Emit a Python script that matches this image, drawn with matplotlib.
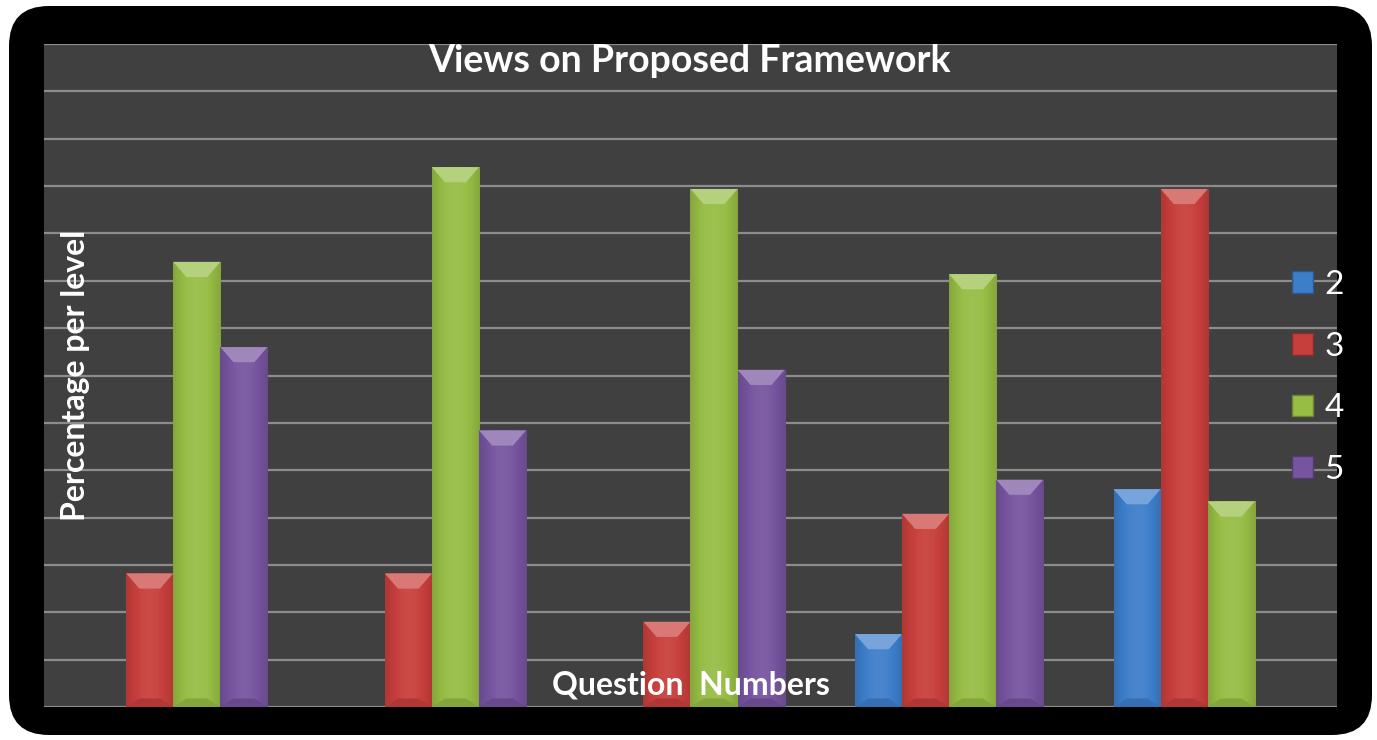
import numpy as np
import matplotlib.pyplot as plt
from matplotlib.patches import FancyBboxPatch, Polygon, Rectangle
from matplotlib.colors import to_rgb

questions = ['Q1', 'Q2', 'Q3', 'Q4', 'Q5']
levels = ['2', '3', '4', '5']
level2 = [0, 0, 0, 7.7, 23.0]
level3 = [14.1, 14.1, 9.0, 20.4, 54.7]
level4 = [47.0, 57.0, 54.7, 45.7, 21.7]
level5 = [38.0, 29.2, 35.6, 24.0, 0]
colors = ['#3d7ecb', '#c73f3c', '#97bd45', '#76549f']

plt.rcParams['font.family'] = ['Lato', 'DejaVu Sans']

fig = plt.figure(figsize=(13.77, 7.40), dpi=100)
fig.patch.set_facecolor('white')

# black rounded frame behind the plot (pixel coordinates)
frame = FancyBboxPatch((9, 5), 1363, 729,
                       boxstyle='round,pad=0,rounding_size=40',
                       transform=None, facecolor='black',
                       edgecolor='none', zorder=0)
fig.patches.append(frame)

ax = fig.add_axes([0.03195, 0.0446, 0.939, 0.8959], zorder=2)
ax.set_facecolor('#404040')
for s in ax.spines.values():
    s.set_visible(False)

x = np.arange(len(questions))
w = 0.182
series = [level2, level3, level4, level5]


def shade(c, f):
    r = np.array(to_rgb(c))
    if f > 0:
        return tuple(r + (1 - r) * f)
    return tuple(r * (1 + f))


def fancy_bar(xc, h, c):
    if h <= 0:
        return
    b = ax.bar(xc, h, w, color=c, edgecolor='none', zorder=3)[0]
    x0, x1 = xc - w / 2, xc + w / 2
    # horizontal shading: darker edges, lighter middle
    t = np.linspace(0, 1, 60)
    prof = 0.18 * np.sin(np.pi * t) - 0.12
    img = np.array([[shade(c, p) for p in prof]])
    im = ax.imshow(img, extent=(x0, x1, 0, h), aspect='auto',
                   interpolation='bicubic', zorder=4)
    im.set_clip_path(b)
    # bevelled top
    bev = 1.6
    ins = w * 0.28
    ax.add_patch(Polygon([(x0, h), (x1, h), (x1 - ins, h - bev), (x0 + ins, h - bev)],
                         closed=True, facecolor=shade(c, 0.3), edgecolor='none', zorder=5))
    # darker foot
    ax.add_patch(Polygon([(x0, 0), (x1, 0), (x1 - ins, 0.9), (x0 + ins, 0.9)],
                         closed=True, facecolor=shade(c, -0.12), edgecolor='none', zorder=5))


for i, (vals, c) in enumerate(zip(series, colors)):
    for j, v in enumerate(vals):
        fancy_bar(x[j] + (i - 1.5) * w, v, c)

ax.set_xlim(-0.5, len(questions) - 0.5)
ax.set_ylim(0, 70)
ax.set_yticks(np.arange(0, 71, 5))
ax.set_xticks([])
ax.tick_params(left=False, labelleft=False)
ax.yaxis.grid(True, color='#8c8c8c', linewidth=1.6)
ax.set_axisbelow(True)

fig.text(0.501, 0.918, 'Views on Proposed Framework', color='white',
         fontsize=27, fontweight='bold', ha='center', va='center', zorder=5)
fig.text(0.055, 0.493, 'Percentage per level', color='white', fontsize=23,
         fontweight='bold', rotation=90, ha='center', va='center', zorder=5)
ax.text(0.5005, 0.033, 'Question  Numbers', color='white', fontsize=23,
        fontweight='bold', ha='center', va='center', transform=ax.transAxes, zorder=6)

handles = [Rectangle((0, 0), 1, 1, facecolor=c, edgecolor=shade(c, -0.3)) for c in colors]
leg = ax.legend(handles, levels, loc='center left', bbox_to_anchor=(0.955, 0.497),
                frameon=False, fontsize=24, handlelength=0.62, handleheight=0.62,
                handletextpad=0.35, labelspacing=0.95, borderaxespad=0)
for t in leg.get_texts():
    t.set_color('white')

fig.savefig('out.png', dpi=100)
